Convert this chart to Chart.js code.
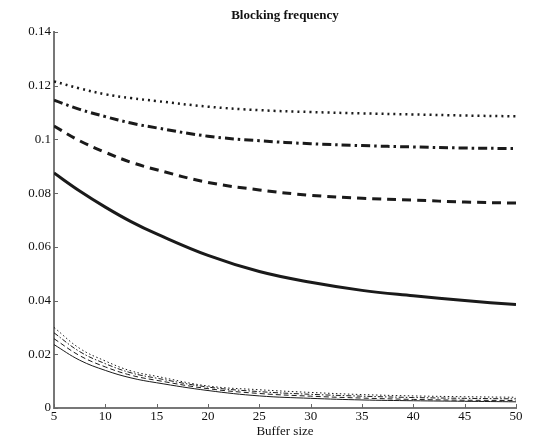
<!DOCTYPE html>
<html><head><meta charset="utf-8">
<script src="https://cdn.jsdelivr.net/npm/chart.js@4/dist/chart.umd.min.js"></script>
<style>html,body{margin:0;padding:0;background:#fff}#w{width:534px;height:439px}</style>
</head><body><div id="w"><canvas id="c"></canvas></div>
<script>
const bufferSizes = [5,7.5,10,12.5,15,20,25,30,35,40,45,50];
const xTicks = [5,10,15,20,25,30,35,40,45,50];
const yTicks = [0,0.02,0.04,0.06,0.08,0.1,0.12,0.14];
const thickSolid   = [0.0875,0.0808,0.0748,0.0694,0.0648,0.0568,0.0508,0.0468,0.0438,0.0418,0.0400,0.0385];
const thickDashed  = [0.1050,0.0995,0.0952,0.0915,0.0887,0.0840,0.0812,0.0792,0.0781,0.0774,0.0767,0.0763];
const thickDashDot = [0.1146,0.1112,0.1085,0.1061,0.1043,0.1012,0.0995,0.0984,0.0977,0.0972,0.0968,0.0966];
const thickDotted  = [0.1216,0.1190,0.1168,0.1154,0.1143,0.1122,0.1109,0.1102,0.1097,0.1093,0.1089,0.1086];
const thinSolid    = [0.0236,0.0178,0.0140,0.0112,0.0094,0.0065,0.0045,0.0036,0.0030,0.0027,0.0025,0.0023];
const thinDashed   = [0.0258,0.0195,0.0153,0.0122,0.0103,0.0072,0.0054,0.0044,0.0037,0.0032,0.0029,0.0028];
const thinDashDot  = [0.0280,0.0210,0.0165,0.0131,0.0111,0.0078,0.0061,0.0051,0.0044,0.0039,0.0036,0.0034];
const thinDotted   = [0.0300,0.0222,0.0175,0.0138,0.0118,0.0082,0.0068,0.0058,0.0050,0.0045,0.0042,0.0040];

const C = '#1a1a1a';
function ds(data, w, dash){ return {data: data.map((v,i)=>({x:bufferSizes[i],y:v})), borderColor:C, borderWidth:w, borderDash:dash, pointRadius:0, fill:false, tension:0.4}; }

const inwardTicks = {
  id:'inwardTicks',
  afterDraw(chart){
    const {ctx, chartArea:a, scales:{x,y}} = chart;
    ctx.save(); ctx.strokeStyle='#666'; ctx.lineWidth=1;
    ctx.beginPath();
    yTicks.forEach(v=>{const p=Math.round(y.getPixelForValue(v))+0.5; ctx.moveTo(a.left,p); ctx.lineTo(a.left+4,p);});
    xTicks.forEach(v=>{const p=Math.round(x.getPixelForValue(v))+0.5; ctx.moveTo(p,a.bottom); ctx.lineTo(p,a.bottom-4);});
    ctx.stroke(); ctx.restore();
  }
};

new Chart(document.getElementById('c'), {
  type:'line',
  data:{datasets:[
    ds(thinSolid,1,[]), ds(thinDashed,1,[5,3]), ds(thinDashDot,1,[5,2,1.5,2]), ds(thinDotted,1,[1.5,2.5]),
    ds(thickSolid,3,[]), ds(thickDashed,3,[9,6]), ds(thickDashDot,3,[9,4,2.5,4]), ds(thickDotted,2.5,[2,4])
  ]},
  options:{
    responsive:true, maintainAspectRatio:false, animation:false,
    layout:{padding:{left:0,right:18,top:0,bottom:0}},
    plugins:{legend:{display:false}, tooltip:{enabled:false},
      title:{display:true, text:'Blocking frequency', fullSize:false, color:'#111',
        font:{family:'Liberation Serif', size:13, weight:'bold'}, padding:{top:8,bottom:8.4}}},
    scales:{
      x:{type:'linear', min:5, max:50,
        afterBuildTicks(s){ s.ticks = xTicks.map(v=>({value:v})); },
        afterFit(s){ s.height = 31; },
        grid:{display:true, drawOnChartArea:false, drawTicks:false, color:'#666'},
        border:{display:true, color:'#777', width:2},
        ticks:{padding:1, color:'#111', maxRotation:0, font:{family:'Liberation Serif', size:13}},
        title:{display:true, text:'Buffer size', color:'#111', font:{family:'Liberation Serif', size:13}, padding:{top:0,bottom:0}}
      },
      y:{min:0, max:0.14,
        afterBuildTicks(s){ s.ticks = yTicks.map(v=>({value:v})); },
        afterFit(s){ s.width = 54; },
        grid:{display:true, drawOnChartArea:false, drawTicks:false, color:'#666'},
        border:{display:true, color:'#777', width:2},
        ticks:{padding:3, color:'#111', font:{family:'Liberation Serif', size:13}, callback:v=>String(+v.toFixed(2))}
      }
    }
  },
  plugins:[inwardTicks]
});
</script></body></html>
